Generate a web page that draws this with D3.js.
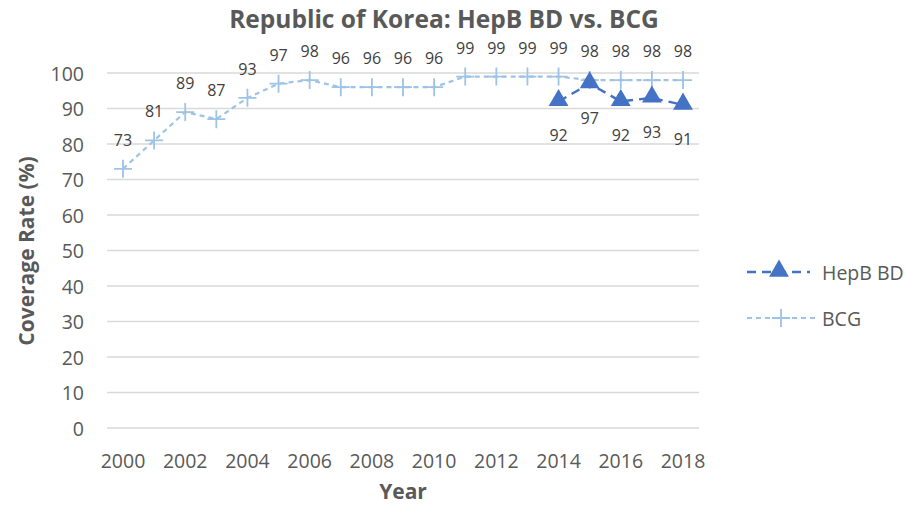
<!DOCTYPE html>
<html>
<head>
<meta charset="utf-8">
<script src="https://cdn.jsdelivr.net/npm/d3@7"></script>
<style>
  body { margin: 0; background: #fff; }
  svg { display: block; font-family: "Open Sans", "Liberation Sans", sans-serif; }
</style>
</head>
<body>
<svg id="chart" width="905" height="506"></svg>
<script>
// chart data
const years = [2000, 2001, 2002, 2003, 2004, 2005, 2006, 2007, 2008, 2009,
               2010, 2011, 2012, 2013, 2014, 2015, 2016, 2017, 2018];
const bcg = [73, 81, 89, 87, 93, 97, 98, 96, 96, 96, 96, 99, 99, 99, 99, 98, 98, 98, 98];
const hepbYears = [2014, 2015, 2016, 2017, 2018];
const hepb = [92, 97, 92, 93, 91];
const yTicks = [0, 10, 20, 30, 40, 50, 60, 70, 80, 90, 100];
const xTickYears = [2000, 2002, 2004, 2006, 2008, 2010, 2012, 2014, 2016, 2018];

const textColor = "#595959";
const gridColor = "#d9d9d9";
const bcgColor = "#9dc3e6";
const hepbColor = "#4472c4";

const svg = d3.select("#chart");

const x = d3.scalePoint()
    .domain(years)
    .range([123, 683]);
const y = d3.scaleLinear()
    .domain([0, 100])
    .range([428, 73]);

// gridlines
svg.append("g")
    .selectAll("line")
    .data(yTicks)
    .join("line")
    .attr("x1", 107)
    .attr("x2", 699)
    .attr("y1", d => y(d))
    .attr("y2", d => y(d))
    .attr("stroke", gridColor)
    .attr("stroke-width", 1.3);

// y tick labels
svg.append("g")
    .selectAll("text")
    .data(yTicks)
    .join("text")
    .attr("x", 84)
    .attr("y", d => y(d))
    .attr("text-anchor", "end")
    .attr("dominant-baseline", "central")
    .attr("font-size", 19.5)
    .attr("fill", textColor)
    .text(d => d);

// x tick labels
svg.append("g")
    .selectAll("text")
    .data(xTickYears)
    .join("text")
    .attr("x", d => x(d))
    .attr("y", 460)
    .attr("text-anchor", "middle")
    .attr("dominant-baseline", "central")
    .attr("font-size", 19.5)
    .attr("fill", textColor)
    .text(d => d);

// title and axis titles
svg.append("text")
    .attr("x", 444)
    .attr("y", 28)
    .attr("text-anchor", "middle")
    .attr("font-size", 24.5)
    .attr("font-weight", "bold")
    .attr("fill", textColor)
    .text("Republic of Korea: HepB BD vs. BCG");

svg.append("text")
    .attr("x", 403)
    .attr("y", 499)
    .attr("text-anchor", "middle")
    .attr("font-size", 21)
    .attr("font-weight", "bold")
    .attr("fill", textColor)
    .text("Year");

svg.append("text")
    .attr("transform", "translate(26,251) rotate(-90)")
    .attr("text-anchor", "middle")
    .attr("dominant-baseline", "central")
    .attr("font-size", 21)
    .attr("font-weight", "bold")
    .attr("fill", textColor)
    .text("Coverage Rate (%)");

const line = d3.line()
    .x(d => x(d[0]))
    .y(d => y(d[1]));

const bcgPts = years.map((yr, i) => [yr, bcg[i]]);
const hepbPts = hepbYears.map((yr, i) => [yr, hepb[i]]);

// BCG series
svg.append("path")
    .datum(bcgPts)
    .attr("d", line)
    .attr("fill", "none")
    .attr("stroke", bcgColor)
    .attr("stroke-width", 2.2)
    .attr("stroke-dasharray", "5,4");

const plus = (g, cx, cy, r, color) => {
    g.append("path")
        .attr("d", `M${cx - r},${cy}H${cx + r}M${cx},${cy - r}V${cy + r}`)
        .attr("stroke", color)
        .attr("stroke-width", 1.8)
        .attr("fill", "none");
};

const bcgMarks = svg.append("g");
bcgPts.forEach(d => plus(bcgMarks, x(d[0]), y(d[1]), 9, bcgColor));

// HepB series
svg.append("path")
    .datum(hepbPts)
    .attr("d", line)
    .attr("fill", "none")
    .attr("stroke", hepbColor)
    .attr("stroke-width", 2.4)
    .attr("stroke-dasharray", "9,6");

const tri = d3.symbol().type(d3.symbolTriangle).size(170);
svg.append("g")
    .selectAll("path")
    .data(hepbPts)
    .join("path")
    .attr("transform", d => `translate(${x(d[0])},${y(d[1]) - 1})`)
    .attr("d", tri)
    .attr("fill", hepbColor);

// data labels
svg.append("g")
    .selectAll("text")
    .data(bcgPts)
    .join("text")
    .attr("x", d => x(d[0]))
    .attr("y", d => y(d[1]) - 29)
    .attr("text-anchor", "middle")
    .attr("dominant-baseline", "central")
    .attr("font-size", 16)
    .attr("fill", "#404040")
    .text(d => d[1]);

svg.append("g")
    .selectAll("text")
    .data(hepbPts)
    .join("text")
    .attr("x", d => x(d[0]))
    .attr("y", d => y(d[1]) + 34)
    .attr("text-anchor", "middle")
    .attr("dominant-baseline", "central")
    .attr("font-size", 16)
    .attr("fill", "#404040")
    .text(d => d[1]);

// legend
const legend = svg.append("g");
legend.append("line")
    .attr("x1", 747).attr("x2", 810)
    .attr("y1", 272).attr("y2", 272)
    .attr("stroke", hepbColor)
    .attr("stroke-width", 2.4)
    .attr("stroke-dasharray", "9,6");
legend.append("path")
    .attr("transform", "translate(779,271)")
    .attr("d", tri)
    .attr("fill", hepbColor);
legend.append("text")
    .attr("x", 822).attr("y", 272)
    .attr("dominant-baseline", "central")
    .attr("font-size", 19.5)
    .attr("fill", textColor)
    .text("HepB BD");

legend.append("line")
    .attr("x1", 747).attr("x2", 815)
    .attr("y1", 318).attr("y2", 318)
    .attr("stroke", bcgColor)
    .attr("stroke-width", 2.2)
    .attr("stroke-dasharray", "5,4");
plus(legend, 781, 318, 9, bcgColor);
legend.append("text")
    .attr("x", 822).attr("y", 318)
    .attr("dominant-baseline", "central")
    .attr("font-size", 19.5)
    .attr("fill", textColor)
    .text("BCG");
</script>
</body>
</html>
